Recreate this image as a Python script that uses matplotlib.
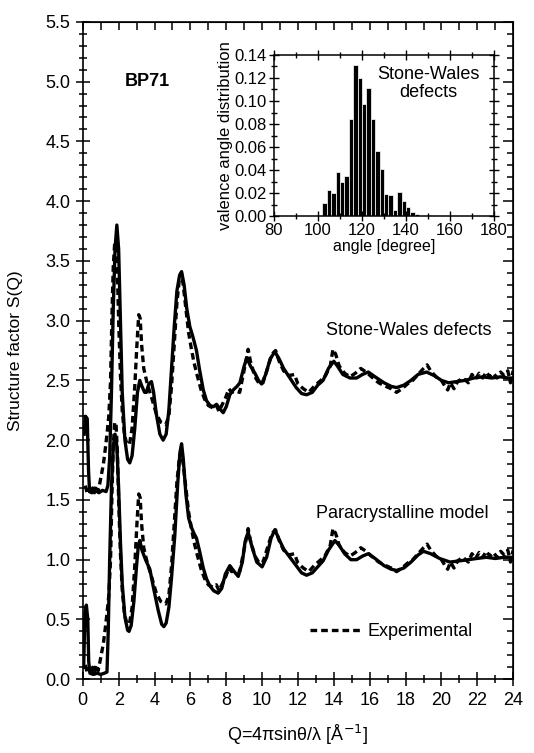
import matplotlib
matplotlib.use('Agg')
import matplotlib.pyplot as plt
from matplotlib.ticker import MultipleLocator, FormatStrFormatter

plt.rcParams['font.family'] = ['Liberation Sans', 'DejaVu Sans']

# Stone-Wales defects model (solid, upper curve)
sw_q = [0.08, 0.15, 0.25, 0.32, 0.38, 0.5, 0.7, 0.9, 1.1, 1.3, 1.4, 1.5, 1.6, 1.7, 1.8, 1.9,
        2.0, 2.1, 2.2, 2.35, 2.5, 2.62, 2.75, 2.9, 3.05, 3.18, 3.3, 3.45, 3.55, 3.68, 3.83,
        3.95, 4.1, 4.3, 4.48, 4.65, 4.8, 4.95, 5.1, 5.25, 5.4, 5.51, 5.65, 5.8, 5.97, 6.15,
        6.34, 6.5, 6.72, 6.9, 7.1, 7.28, 7.46, 7.65, 7.83, 8.0, 8.2, 8.39, 8.6, 8.76, 9.0,
        9.15, 9.35, 9.6, 9.8, 9.97, 10.2, 10.45, 10.71, 10.95, 11.2, 11.55, 11.9, 12.2,
        12.48, 12.8, 13.1, 13.4, 13.7, 14.0, 14.2, 14.5, 14.9, 15.27, 15.6, 15.92, 16.3,
        16.8, 17.2, 17.5, 17.9, 18.3, 18.7, 19.17, 19.6, 20.0, 20.4, 20.85, 21.3, 21.8,
        22.3, 22.8, 23.3, 23.7, 24.0]
sw_s = [2.05, 2.2, 2.18, 1.75, 1.57, 1.56, 1.58, 1.56, 1.58, 1.57, 1.62, 1.85, 2.4, 3.1, 3.6, 3.8,
        3.6, 3.0, 2.4, 2.0, 1.84, 1.81, 1.87, 2.1, 2.4, 2.5, 2.45, 2.4, 2.4, 2.47, 2.49,
        2.4, 2.22, 2.05, 2.0, 2.05, 2.25, 2.6, 2.95, 3.25, 3.38, 3.41, 3.3, 3.1, 2.95, 2.86,
        2.75, 2.6, 2.42, 2.33, 2.29, 2.28, 2.3, 2.26, 2.23, 2.28, 2.38, 2.42, 2.45, 2.48, 2.62,
        2.69, 2.62, 2.56, 2.5, 2.47, 2.55, 2.68, 2.74, 2.68, 2.6, 2.52, 2.44, 2.39,
        2.38, 2.4, 2.46, 2.5, 2.6, 2.66, 2.62, 2.55, 2.52, 2.52, 2.55, 2.57, 2.53,
        2.48, 2.45, 2.44, 2.46, 2.5, 2.55, 2.57, 2.54, 2.5, 2.48, 2.49, 2.5, 2.52,
        2.53, 2.52, 2.53, 2.52, 2.52]

# Paracrystalline model (solid, lower curve)
pc_q = [0.05, 0.12, 0.2, 0.28, 0.33, 0.4, 0.6, 0.8, 1.0, 1.2, 1.35, 1.42, 1.5, 1.6, 1.7, 1.8,
        1.9, 2.0, 2.1, 2.2, 2.35, 2.5, 2.58, 2.7, 2.85, 3.0, 3.1, 3.18, 3.3, 3.5, 3.74, 3.95,
        4.2, 4.4, 4.52, 4.65, 4.8, 4.95, 5.13, 5.3, 5.42, 5.51, 5.6, 5.75, 5.9, 6.06, 6.2,
        6.34, 6.5, 6.72, 6.9, 7.09, 7.3, 7.55, 7.75, 7.95, 8.2, 8.45, 8.67, 8.9, 9.05, 9.22,
        9.45, 9.7, 10.0, 10.25, 10.5, 10.71, 10.95, 11.2, 11.5, 11.85, 12.2, 12.48, 12.8,
        13.1, 13.4, 13.7, 14.06, 14.3, 14.6, 14.95, 15.27, 15.6, 15.92, 16.3, 16.8, 17.2,
        17.5, 17.9, 18.3, 18.7, 19.0, 19.4, 19.9, 20.48, 21.0, 21.5, 21.97, 22.5, 23.0,
        23.5, 24.0]
pc_s = [0.1, 0.55, 0.62, 0.5, 0.15, 0.05, 0.04, 0.05, 0.04, 0.05, 0.06, 0.4, 1.0, 1.6, 1.95, 2.05,
        1.95, 1.6, 1.15, 0.8, 0.52, 0.41, 0.4, 0.45, 0.65, 0.95, 1.12, 1.16, 1.08, 1.0, 0.92, 0.76,
        0.58, 0.46, 0.44, 0.47, 0.6, 0.85, 1.2, 1.65, 1.9, 1.97, 1.85, 1.55, 1.35, 1.27, 1.22,
        1.18, 1.08, 0.93, 0.84, 0.78, 0.74, 0.72, 0.76, 0.88, 0.95, 0.9, 0.86, 0.98, 1.15, 1.23,
        1.1, 0.98, 0.94, 1.02, 1.18, 1.25, 1.17, 1.09, 1.03, 0.96, 0.89, 0.87, 0.89,
        0.94, 0.99, 1.08, 1.16, 1.12, 1.05, 1.0, 1.0, 1.03, 1.05, 1.01, 0.95, 0.92,
        0.91, 0.93, 0.98, 1.04, 1.07, 1.05, 1.01, 0.98, 0.99, 1.0, 1.01, 1.02, 1.01,
        1.02, 1.02]

# Experimental S(Q) (dashed), drawn twice: as is and shifted up
exp_q = [0.15, 0.25, 0.35, 0.45, 0.55, 0.65, 0.75, 0.85, 0.95, 1.05, 1.15, 1.25, 1.35, 1.45,
         1.55, 1.62, 1.7, 1.78, 1.86, 1.93, 2.0, 2.1, 2.2, 2.32, 2.45, 2.6, 2.75, 2.9, 3.02,
         3.12, 3.2, 3.28, 3.4, 3.6, 3.85, 4.1, 4.35, 4.63, 4.8, 4.95, 5.1, 5.25, 5.4, 5.5,
         5.6, 5.75, 5.9, 6.05, 6.2, 6.4, 6.6, 6.8, 7.0, 7.25, 7.45, 7.6, 7.75, 7.95, 8.15,
         8.3, 8.5, 8.75, 8.95, 9.12, 9.22, 9.35, 9.6, 9.85, 10.05, 10.3, 10.55, 10.75, 10.95,
         11.2, 11.5, 11.8, 12.0, 12.3, 12.6, 12.9, 13.2, 13.5, 13.8, 13.95, 14.1, 14.3, 14.6,
         14.9, 15.2, 15.5, 15.8, 16.1, 16.5, 16.9, 17.2, 17.5, 17.8, 18.1, 18.4, 18.7, 19.0,
         19.2, 19.4, 19.7, 20.0, 20.2, 20.35, 20.5, 20.7, 20.9, 21.2, 21.5, 21.7, 21.9, 22.1,
         22.3, 22.5, 22.7, 22.9, 23.1, 23.3, 23.5, 23.7, 23.85, 24.0]
exp_s = [0.12, 0.05, 0.09, 0.04, 0.1, 0.06, 0.12, 0.07, 0.14, 0.22, 0.3, 0.42, 0.55, 0.7,
         1.0, 1.5, 1.95, 2.15, 2.12, 1.9, 1.5, 1.05, 0.75, 0.55, 0.47, 0.46, 0.6, 0.95, 1.3,
         1.55, 1.52, 1.3, 1.1, 0.97, 0.85, 0.72, 0.65, 0.63, 0.7, 0.95, 1.3, 1.65, 1.87, 1.9,
         1.8, 1.6, 1.4, 1.27, 1.15, 1.03, 0.92, 0.84, 0.79, 0.77, 0.79, 0.74, 0.79, 0.85, 0.93,
         0.9, 0.91, 0.9, 1.05, 1.18, 1.26, 1.16, 1.03, 0.97, 0.98, 1.1, 1.22, 1.25, 1.16,
         1.08, 1.04, 1.05, 0.97, 0.93, 0.9, 0.95, 0.99, 1.03, 1.12, 1.26, 1.22, 1.12, 1.06,
         1.03, 1.06, 1.1, 1.07, 1.03, 0.98, 0.95, 0.93, 0.9, 0.93, 0.97, 1.0, 1.05, 1.1,
         1.13, 1.08, 1.03, 1.0, 0.95, 0.92, 0.98, 0.93, 0.99, 1.02, 0.98, 1.05, 1.01, 1.06,
         1.02, 1.07, 1.03, 1.06, 1.02, 1.07, 1.04, 1.08, 0.98, 1.08]
exp_offset = 1.5

# inset: valence angle distribution for Stone-Wales model
angle = [103, 105, 107, 109, 111, 113, 115, 117, 119, 121, 123, 125, 127, 129, 131, 133,
         135, 137, 139, 141, 143, 145, 151, 163]
angle_dist = [0.011, 0.023, 0.020, 0.038, 0.030, 0.035, 0.084, 0.131, 0.120, 0.097, 0.111,
              0.084, 0.057, 0.041, 0.019, 0.018, 0.005, 0.021, 0.013, 0.008, 0.004, 0.002,
              0.001, 0.0005]

fig = plt.figure(figsize=(5.34, 7.53), dpi=100)
ax = fig.add_axes([0.155, 0.098, 0.806, 0.873])

dash = (0, (2.0, 1.2))
ax.plot(sw_q, sw_s, color='black', lw=2.4)
ax.plot(pc_q, pc_s, color='black', lw=2.4)
ax.plot(exp_q, [s + exp_offset for s in exp_s], color='black', lw=2.4, ls=dash)
ax.plot(exp_q, exp_s, color='black', lw=2.4, ls=dash, label='Experimental')

ax.set_xlim(0, 24)
ax.set_ylim(0, 5.5)
ax.xaxis.set_major_locator(MultipleLocator(2))
ax.xaxis.set_minor_locator(MultipleLocator(1))
ax.yaxis.set_major_locator(MultipleLocator(0.5))
ax.yaxis.set_minor_locator(MultipleLocator(0.1))
ax.yaxis.set_major_formatter(FormatStrFormatter('%.1f'))
ax.tick_params(which='both', direction='inout', top=False, right=False, labelsize=13, width=1.1)
ax.tick_params(which='major', length=10, pad=4)
ax.tick_params(which='minor', length=6)
for sp in ax.spines.values():
    sp.set_linewidth(1.2)

# ticks pointing inward on top and right
sec_x = ax.secondary_xaxis('top')
sec_x.xaxis.set_major_locator(MultipleLocator(2))
sec_x.xaxis.set_minor_locator(MultipleLocator(1))
sec_x.tick_params(which='both', direction='in', labeltop=False, width=1.1)
sec_x.tick_params(which='major', length=6)
sec_x.tick_params(which='minor', length=6)
sec_y = ax.secondary_yaxis('right')
sec_y.yaxis.set_major_locator(MultipleLocator(0.5))
sec_y.yaxis.set_minor_locator(MultipleLocator(0.1))
sec_y.tick_params(which='both', direction='in', labelright=False, width=1.1)
sec_y.tick_params(which='major', length=7)
sec_y.tick_params(which='minor', length=4)

ax.set_xlabel('Q=4πsinθ/λ [Å$^{-1}$]', fontsize=13)
ax.xaxis.set_label_coords(0.5, -0.066)
ax.set_ylabel('Structure factor S(Q)', fontsize=12.5)
ax.yaxis.set_label_coords(-0.14, 0.5)

ax.text(3.6, 5.0, 'BP71', fontsize=13, fontweight='bold', ha='center', va='center')
ax.text(18.2, 2.92, 'Stone-Wales defects', fontsize=13, ha='center', va='center')
ax.text(17.8, 1.39, 'Paracrystalline model', fontsize=13, ha='center', va='center')

ax.legend(loc='center left', bbox_to_anchor=(0.528, 0.072), frameon=False, fontsize=13,
          handlelength=2.9, handletextpad=0.3, borderpad=0, borderaxespad=0)

# inset histogram
axi = fig.add_axes([0.513, 0.713, 0.412, 0.214])
axi.bar(angle, angle_dist, width=2, color='black', edgecolor='white', linewidth=0.5)
axi.set_xlim(80, 180)
axi.set_ylim(0, 0.14)
axi.xaxis.set_major_locator(MultipleLocator(20))
axi.xaxis.set_minor_locator(MultipleLocator(10))
axi.yaxis.set_major_locator(MultipleLocator(0.02))
axi.yaxis.set_minor_locator(MultipleLocator(0.01))
axi.yaxis.set_major_formatter(FormatStrFormatter('%.2f'))
axi.tick_params(which='both', direction='inout', labelsize=12, width=1.0, pad=1.5)
axi.tick_params(which='major', length=7)
axi.tick_params(which='minor', length=4)
axi.tick_params(which='both', top=True, right=True)
for sp in axi.spines.values():
    sp.set_linewidth(1.1)
axi.set_xlabel('angle [degree]', fontsize=11.5, labelpad=1)
axi.set_ylabel('valence angle distribution', fontsize=12, labelpad=1)
axi.text(150, 0.115, 'Stone-Wales\ndefects', fontsize=13, ha='center', va='center',
         linespacing=1.05)

fig.savefig('out.png', dpi=100)
